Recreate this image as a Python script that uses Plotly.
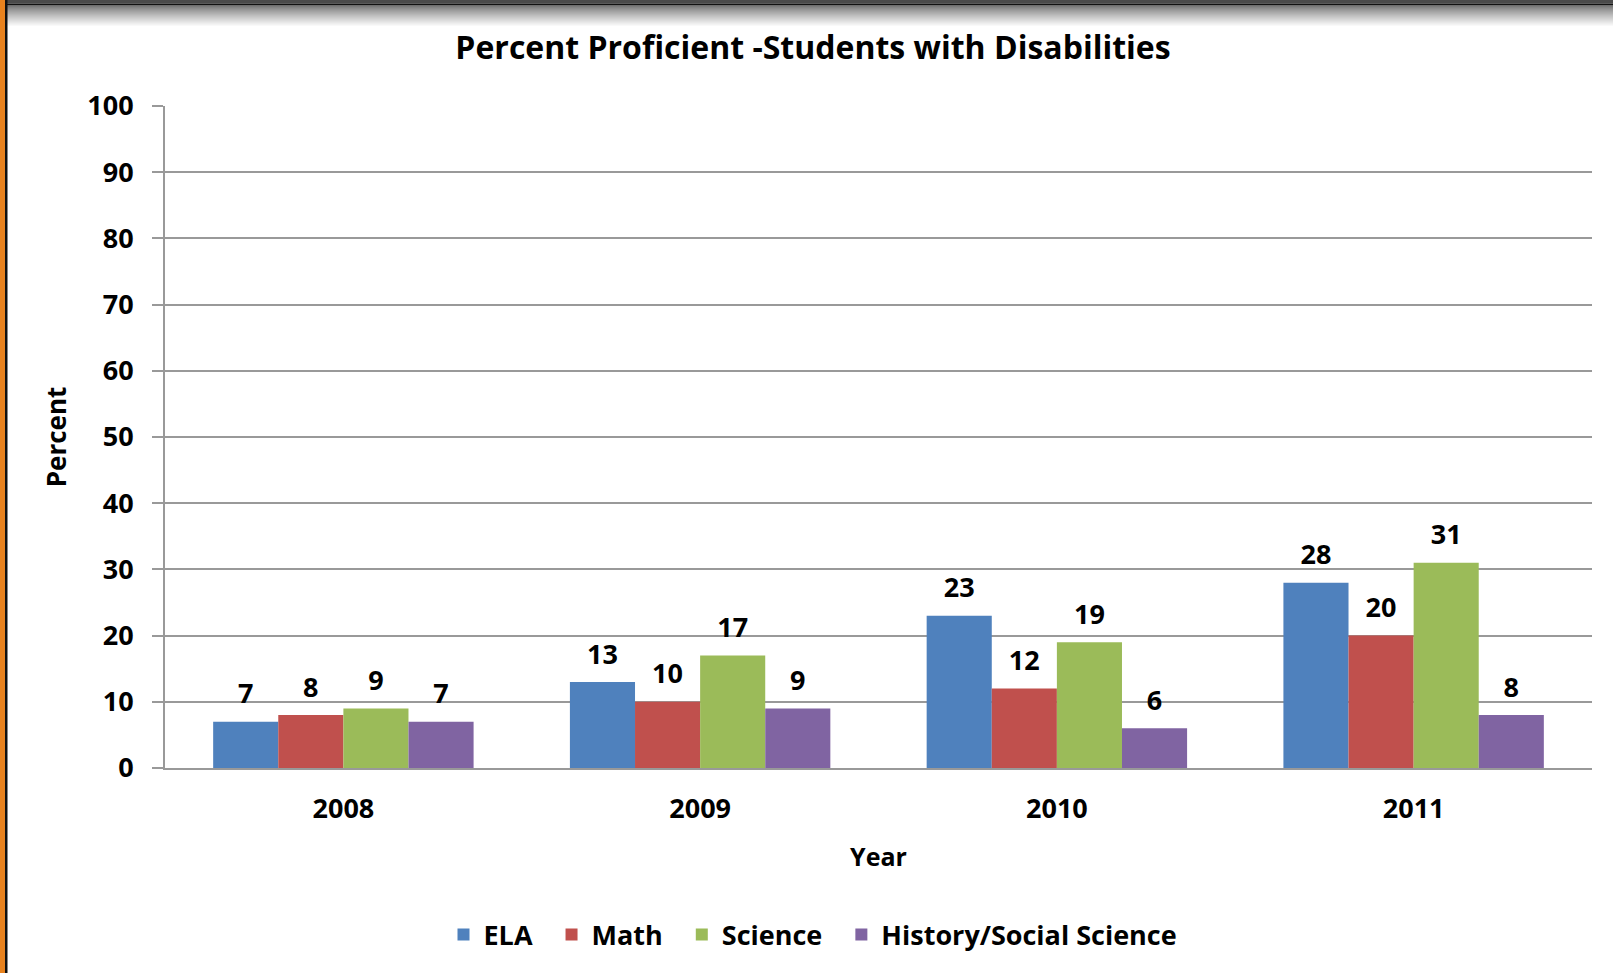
import plotly.graph_objects as go

years = ["2008", "2009", "2010", "2011"]
ela = [7, 13, 23, 28]
math_ = [8, 10, 12, 20]
science = [9, 17, 19, 31]
history = [7, 9, 6, 8]

series = [
    ("ELA", ela, "#4F81BD"),
    ("Math", math_, "#C0504D"),
    ("Science", science, "#9BBB59"),
    ("History/Social Science", history, "#8064A2"),
]

W, H = 1613, 973
L, R, T, B = 165, 21, 106, 205
pw, ph = W - L - R, H - T - B

def px(x):
    return (x - L) / pw

def py(y):
    return 1 - (y - T) / ph

FONT = "'Open Sans', sans-serif"
NB = "\u00a0"

fig = go.Figure()
for name, vals, col in series:
    fig.add_trace(go.Bar(
        name=name + NB * 2, x=years, y=vals, marker=dict(color=col, line=dict(width=0)),
        offsetgroup=name, hoverinfo="x+y",
    ))
for name, vals, col in series:
    fig.add_trace(go.Scatter(
        x=years, y=vals, mode="markers+text", text=[str(v) for v in vals],
        textposition="top center", offsetgroup=name, showlegend=False, hoverinfo="skip",
        marker=dict(size=17, color="rgba(0,0,0,0)", line=dict(width=0)), cliponaxis=False,
        textfont=dict(family=FONT, size=27, color="black", weight="bold"),
    ))

shapes = []
steps = 22
for i in range(steps):
    y0 = 5 + i
    v = int(110 + (255 - 110) * (i / (steps - 1)) ** 0.8)
    shapes.append(dict(type="rect", xref="paper", yref="paper", x0=px(0), x1=px(W),
                       y0=py(y0), y1=py(y0 + 1), fillcolor=f"rgb({v},{v},{v})", line=dict(width=0), layer="below"))
shapes.append(dict(type="rect", xref="paper", yref="paper", x0=px(0), x1=px(W), y0=py(0), y1=py(3.5),
                   fillcolor="#4a4a4a", line=dict(width=0)))
shapes.append(dict(type="rect", xref="paper", yref="paper", x0=px(0), x1=px(W), y0=py(3.5), y1=py(5),
                   fillcolor="#111111", line=dict(width=0)))
shapes.append(dict(type="rect", xref="paper", yref="paper", x0=px(0), x1=px(5), y0=py(0), y1=py(H),
                   fillcolor="#E8821E", line=dict(width=0)))
shapes.append(dict(type="rect", xref="paper", yref="paper", x0=px(5), x1=px(7.5), y0=py(0), y1=py(H),
                   fillcolor="#111111", line=dict(width=0)))

fig.update_layout(
    width=W, height=H,
    margin=dict(l=L, r=R, t=T, b=B, autoexpand=False),
    paper_bgcolor="white", plot_bgcolor="white",
    barmode="group", bargap=0.27, bargroupgap=0,
    scattermode="group", scattergap=0.27,
    font=dict(family=FONT, color="black"),
    title=dict(text="<b>Percent Proficient -Students with Disabilities</b>", x=813 / W, xref="container",
               xanchor="center", y=1 - 48 / H, yref="container", yanchor="middle",
               font=dict(family=FONT, size=32, color="black")),
    xaxis=dict(
        showgrid=False, showline=True, linecolor="#999999", linewidth=2,
        ticks="", ticklabelstandoff=16,
        tickfont=dict(family=FONT, size=27, color="black", weight="bold"),
        title=dict(text="<b>Year</b>", font=dict(family=FONT, size=25, color="black"), standoff=23),
    ),
    yaxis=dict(
        range=[0, 100], dtick=10, showgrid=True, gridcolor="#999999", gridwidth=1.5,
        showline=True, linecolor="#999999", linewidth=2, ticks="outside", ticklen=11,
        tickcolor="#999999", tickwidth=1.5, zeroline=False, ticklabelstandoff=13,
        tickfont=dict(family=FONT, size=27, color="black", weight="bold"),
        title=dict(text="<b>Percent</b>", font=dict(family=FONT, size=26, color="black"), standoff=13),
    ),
    legend=dict(orientation="h", x=px(820), xanchor="center", y=py(935), yanchor="middle",
                xref="paper", font=dict(family=FONT, size=27, color="black", weight="bold"),
                traceorder="normal"),
    shapes=shapes,
)

fig.write_html("out.html", config={"displayModeBar": False},
               post_script="document.body.style.margin='0';document.body.style.padding='0';")
